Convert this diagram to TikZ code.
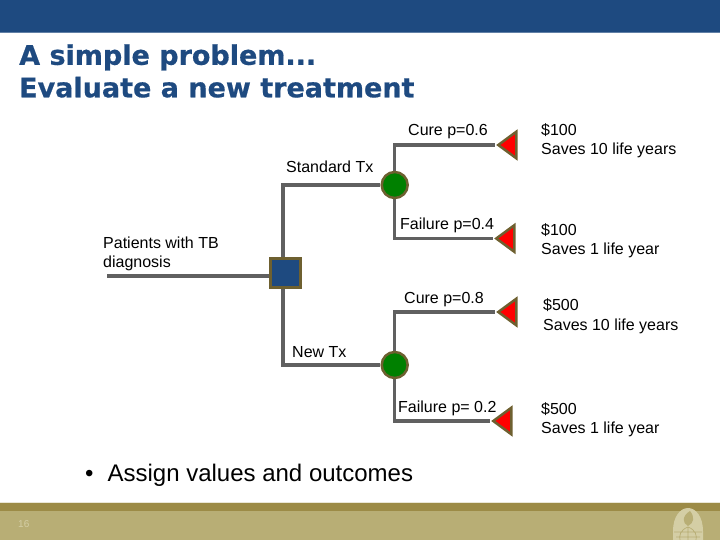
\documentclass[tikz,border=0pt]{standalone}
\usepackage{fontspec}
\setmainfont{Liberation Sans}
\newfontfamily\titlefont[FakeBold=0.6]{DejaVu Sans Bold}
\usepackage{xcolor}
\usetikzlibrary{shapes.geometric, positioning, calc, backgrounds}
\definecolor{navyblue}{RGB}{30, 74, 128}
\definecolor{branchgray}{RGB}{96, 96, 96}
\definecolor{nodeolive}{RGB}{110, 96, 48}
\definecolor{chancegreen}{RGB}{0, 128, 0}
\definecolor{footerkhaki}{RGB}{184, 174, 117}
\definecolor{footerdark}{RGB}{156, 139, 70}
\definecolor{logopale}{RGB}{212, 206, 165}

\begin{document}
\begin{tikzpicture}[
    x=1pt, y=-1pt,
    label/.style={font=\fontsize{16}{19.5}\selectfont, inner sep=0pt, anchor=west, align=left},
    branch/.style={line width=3.5pt, draw=branchgray},
    decision/.style={
        rectangle, draw=nodeolive, fill=navyblue, line width=3pt,
        minimum size=29.5pt, inner sep=0pt
    },
    chance/.style={
        circle, draw=nodeolive, fill=chancegreen, line width=2.5pt,
        minimum size=26pt, inner sep=0pt
    },
    outcome/.style={
        isosceles triangle, isosceles triangle stretches, shape border rotate=180,
        draw=nodeolive, fill=red, line width=2.5pt,
        minimum width=26.5pt, minimum height=18pt, inner sep=0pt, anchor=apex
    }
]
\useasboundingbox (0,0) rectangle (720,540);

% ==============================================================================
% SLIDE FRAME
% ==============================================================================
\fill[navyblue] (0,0) rectangle (720,32);
\fill[navyblue!70] (0,32) rectangle (720,33);
\fill[footerkhaki] (0,503) rectangle (720,540);
\fill[footerdark] (0,503) rectangle (720,511);
\fill[footerkhaki!30] (0,502) rectangle (720,503);

\node[anchor=west, inner sep=0pt, align=left, text=navyblue,
      font=\titlefont\fontsize{27}{32.5}\selectfont] (title) at (19,71) {
    A simple problem...\\
    Evaluate a new treatment
};
\node[label, font=\fontsize{10}{12}\selectfont, text=logopale] (pagenum) at (18,524) {16};

% emblem in the footer corner
\fill[logopale] (673,540) -- (673,531) .. controls (673,517) and (680,508) .. (688,508)
    .. controls (696,508) and (703,517) .. (703,531) -- (703,540) -- cycle;
\fill[footerkhaki] (690,511) .. controls (682,516) and (682,523) .. (688,526)
    .. controls (694,523) and (695,517) .. (690,511) -- cycle;
\draw[footerkhaki, line width=0.7pt] (674,532) -- (702,532) (676,537) -- (700,537)
    (688,527) -- (688,540) (688,527) .. controls (680,530) and (679,536) .. (680,540)
    (688,527) .. controls (696,530) and (697,536) .. (696,540);

% ==============================================================================
% DECISION TREE NODES
% ==============================================================================
\coordinate (patients) at (107,276);
\node[decision] (treat) at (285.3,273) {};
\node[chance] (stdtx) at (394.7,185) {};
\node[chance] (newtx) at (394.7,365) {};

\node[outcome] (stdcure) at (495,145) {};
\node[outcome] (stdfail) at (493,238.5) {};
\node[outcome] (newcure) at (495,312) {};
\node[outcome] (newfail) at (490,421) {};

% ==============================================================================
% BRANCHES
% ==============================================================================
\begin{scope}[on background layer]
\draw[branch] (patients) -- (treat.west |- patients);
\draw[branch] (treat.north -| 283,0) |- (stdtx.west);
\draw[branch] (treat.south -| 283,0) |- (newtx.west);
\draw[branch] (stdtx.north) |- (stdcure.apex);
\draw[branch] (stdtx.south) |- (stdfail.apex);
\draw[branch] (newtx.north) |- (newcure.apex);
\draw[branch] (newtx.south) |- (newfail.apex);
\end{scope}

% ==============================================================================
% LABELS
% ==============================================================================
\node[label] (lblcure1) at (408,132) {Cure p=0.6};
\node[label] (lblstd) at (286,167) {Standard Tx};
\node[label] (lblfail1) at (400,225) {Failure p=0.4};
\node[label] (lblpat) at (103,254) {Patients with TB\\diagnosis};
\node[label] (lblcure2) at (404,300) {Cure p=0.8};
\node[label] (lblnew) at (292,352) {New Tx};
\node[label] (lblfail2) at (398,408) {Failure p= 0.2};

\node[label] (val1) at (541,140.5) {\$100\\Saves 10 life years};
\node[label] (val2) at (541,240.5) {\$100\\Saves 1 life year};
\node[label] (val3) at (543,316) {\$500\\Saves 10 life years};
\node[label] (val4) at (541,419.5) {\$500\\Saves 1 life year};

\node[label, font=\fontsize{24}{28}\selectfont] (bullet) at (85,475.5) {\textbullet\hspace{14pt}Assign values and outcomes};

\end{tikzpicture}
\end{document}
